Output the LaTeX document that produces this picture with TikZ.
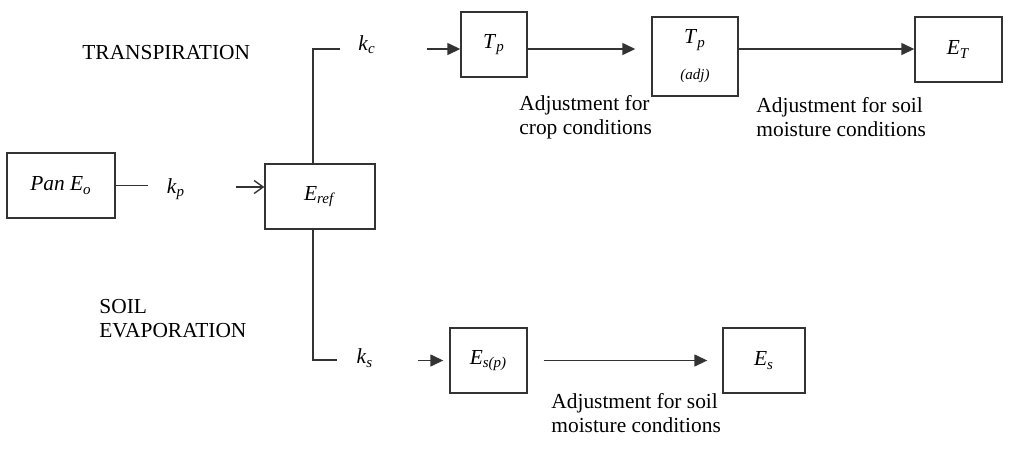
\documentclass[tikz,border=0pt]{standalone}
\usepackage{fontspec}
\setmainfont{Liberation Serif}
\usetikzlibrary{arrows.meta}
\newcommand{\vsub}[2]{\textit{#1}\textsubscript{\textit{#2}}}
\begin{document}
\begin{tikzpicture}[x=0.5pt, y=-0.5pt, font=\fontsize{10.7}{12}\selectfont,
    box/.style={draw=black!80, line width=0.7pt, inner sep=0pt, minimum height=32.5pt},
    link/.style={draw=black!80, line width=0.7pt},
    tip/.style={link, -{Triangle[length=6.5pt,width=6pt]}},
    barb/.style={link, -{Straight Barb[length=4.5pt,width=6.5pt]}},
    klabel/.style={inner sep=0pt},
    note/.style={anchor=west, align=left, inner sep=0pt}]
    \useasboundingbox (0,0) rectangle (1012,456);
    % boxes
    \node[box, minimum width=54pt] (pan) at (61,185.5) {\vsub{Pan E}{o}};
    \node[box, minimum width=55pt] (eref) at (320,196.5) {\vsub{E}{ref}};
    \node[box, minimum width=33pt] (tp) at (494,44.5) {\vsub{T}{p}};
    \node[box, minimum width=43pt, minimum height=39.5pt, align=center] (tpadj) at (695,56.5)
        {\vsub{T}{p}\\[6pt]{\fontsize{7.5}{8}\selectfont\textit{(adj)}}};
    \node[box, minimum width=43.5pt] (et) at (958.5,49.5) {\vsub{E}{T}};
    \node[box, minimum width=38.5pt] (esp) at (488.5,360.5) {\vsub{E}{s(p)}};
    \node[box, minimum width=41pt] (es) at (764,360.5) {\vsub{E}{s}};
    % coefficients
    \node[klabel] (kp) at (176,189) {\vsub{k}{p}};
    \node[klabel] (kc) at (367,45) {\vsub{k}{c}};
    \node[klabel] (ks) at (365,358) {\vsub{k}{s}};
    \coordinate (kpin) at (148,185.5);
    \coordinate (kpout) at (236,187);
    \coordinate (kcin) at (340,49);
    \coordinate (kcout) at (427,49);
    \coordinate (ksin) at (337,360);
    \coordinate (ksout) at (418,360.5);
    % connectors
    \draw[link] (pan.east) -- (kpin);
    \draw[barb] (kpout) -- (kpout -| eref.west);
    \draw[link] ([xshift=-3.5pt]eref.north) |- (kcin);
    \draw[link] ([xshift=-3.5pt]eref.south) |- (ksin);
    \draw[tip] (kcout) -- (kcout -| tp.west);
    \draw[tip] (tp.east |- kcout) -- ([xshift=-8pt]tpadj.west |- kcout);
    \draw[tip] (tpadj.east |- kcout) -- (et.west |- kcout);
    \draw[tip] (ksout) -- ([xshift=-3pt]esp.west);
    \draw[tip] ([xshift=8pt]esp.east) -- ([xshift=-7.5pt]es.west);
    % texts
    \node[note] (transp) at (82,53) {TRANSPIRATION};
    \node[note] (evap) at (99,319) {SOIL\\EVAPORATION};
    \node[note] (cropnote) at (519,117) {Adjustment for\\crop conditions};
    \node[note] (soilnote) at (756,117) {Adjustment for soil\\moisture conditions};
    \node[note] (esnote) at (551,413) {Adjustment for soil\\moisture conditions};
\end{tikzpicture}
\end{document}
